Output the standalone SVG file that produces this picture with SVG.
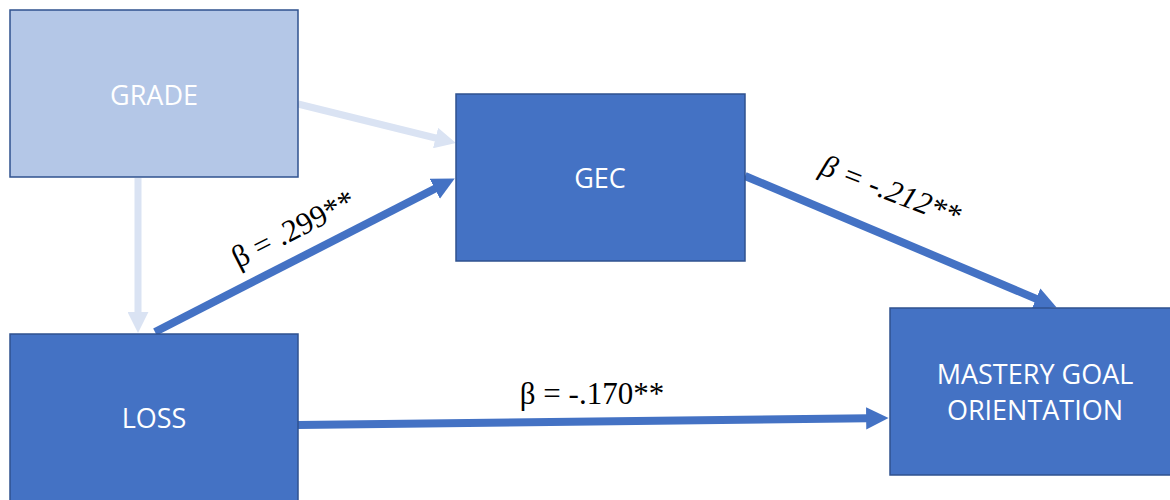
<svg xmlns="http://www.w3.org/2000/svg" width="1170" height="500" viewBox="0 0 1170 500">
<style>
.box{stroke:#2f528f;stroke-width:1.5}
.light{fill:#b4c7e7}
.dark{fill:#4472c4}
.lbl{font-family:"Open Sans","Liberation Sans",sans-serif;font-size:27px;fill:#ffffff;text-anchor:middle}
.beta{font-family:"Liberation Serif","Times New Roman",serif;font-size:31px;fill:#000000;text-anchor:middle}
.c-light{stroke:#dae3f3;stroke-width:7;fill:none}
.c-dark{stroke:#4472c4;stroke-width:8;fill:none}
</style>
<defs>
<marker id="ahL" viewBox="0 0 10 10" refX="1" refY="5" markerWidth="3" markerHeight="3" orient="auto" markerUnits="strokeWidth"><path d="M0,0 L10,5 L0,10 z" fill="#dae3f3"/></marker>
<marker id="ahD" viewBox="0 0 10 10" refX="1" refY="5" markerWidth="2.8" markerHeight="3" orient="auto" markerUnits="strokeWidth"><path d="M0,0 L10,5 L0,10 z" fill="#4472c4"/></marker>
</defs>
<rect width="1170" height="500" fill="#ffffff"/>
<g id="connectors">
<line class="c-light" x1="298" y1="104" x2="437.6" y2="138.5" marker-end="url(#ahL)"/>
<line class="c-light" x1="138" y1="178" x2="138" y2="314" marker-end="url(#ahL)"/>
<line class="c-dark" x1="155" y1="332" x2="436.8" y2="187.8" marker-end="url(#ahD)"/>
<line class="c-dark" x1="745" y1="176" x2="1038.1" y2="299.6" marker-end="url(#ahD)"/>
<line class="c-dark" x1="298" y1="425" x2="868.4" y2="418.3" marker-end="url(#ahD)"/>
<text class="beta" transform="translate(298,238) rotate(-27)">β = .299**</text>
<text class="beta" font-style="italic" transform="translate(887,200) rotate(21)">β = -.212**</text>
<text class="beta" x="592" y="404">β = -.170**</text>
</g>
<g id="grade">
<rect class="box light" x="10" y="10" width="288" height="167"/>
<text class="lbl" x="154" y="105">GRADE</text>
</g>
<g id="gec">
<rect class="box dark" x="456" y="94" width="289" height="167"/>
<text class="lbl" x="600" y="188">GEC</text>
</g>
<g id="loss">
<rect class="box dark" x="10" y="334" width="288" height="180"/>
<text class="lbl" x="154" y="428">LOSS</text>
</g>
<g id="mastery">
<rect class="box dark" x="890" y="308" width="290" height="167"/>
<text class="lbl" x="1035" y="384">MASTERY GOAL</text>
<text class="lbl" x="1035" y="420">ORIENTATION</text>
</g>
</svg>
